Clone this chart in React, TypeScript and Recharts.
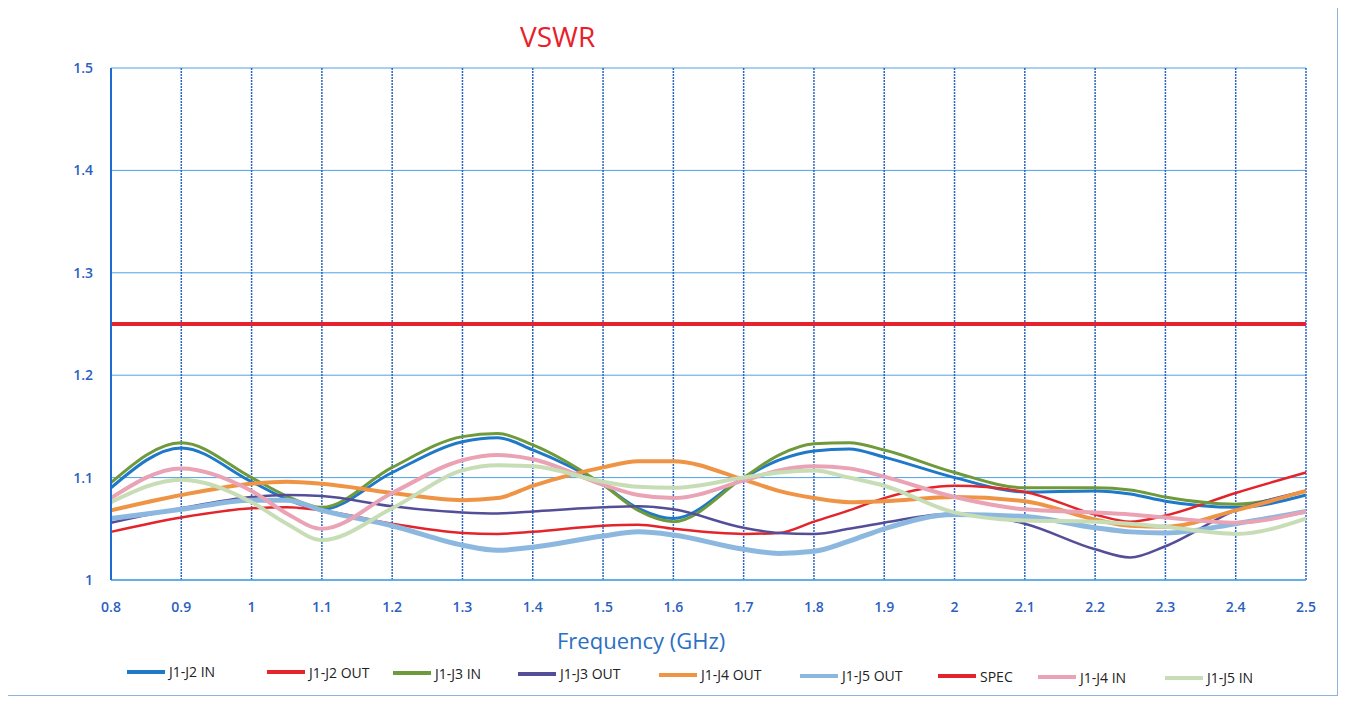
import React from 'react';
import { LineChart, Line, XAxis, YAxis, CartesianGrid } from 'recharts';

const FREQ = [0.8, 0.9, 1.0, 1.05, 1.1, 1.2, 1.3, 1.35, 1.4, 1.5, 1.55, 1.6, 1.7, 1.75, 1.8, 1.85, 1.9, 2.0, 2.1, 2.2, 2.25, 2.3, 2.4, 2.5];

const J12_IN = [1.09, 1.129, 1.096, 1.079, 1.069, 1.105, 1.135, 1.139, 1.127, 1.093, 1.07, 1.06, 1.1, 1.117, 1.126, 1.128, 1.12, 1.1, 1.086, 1.087, 1.084, 1.077, 1.071, 1.083];
const J12_OUT = [1.047, 1.061, 1.07, 1.071, 1.068, 1.055, 1.046, 1.045, 1.047, 1.053, 1.054, 1.05, 1.045, 1.046, 1.057, 1.068, 1.08, 1.092, 1.086, 1.064, 1.057, 1.063, 1.085, 1.105];
const J13_IN = [1.095, 1.134, 1.1, 1.082, 1.071, 1.11, 1.14, 1.143, 1.132, 1.093, 1.068, 1.057, 1.1, 1.122, 1.133, 1.134, 1.127, 1.105, 1.09, 1.09, 1.088, 1.081, 1.074, 1.087];
const J13_OUT = [1.056, 1.07, 1.081, 1.083, 1.082, 1.072, 1.066, 1.065, 1.067, 1.071, 1.072, 1.069, 1.051, 1.046, 1.045, 1.05, 1.056, 1.065, 1.055, 1.03, 1.022, 1.033, 1.068, 1.087];
const J14_OUT = [1.068, 1.083, 1.094, 1.096, 1.094, 1.085, 1.078, 1.08, 1.092, 1.11, 1.116, 1.116, 1.098, 1.087, 1.08, 1.076, 1.077, 1.081, 1.077, 1.059, 1.053, 1.052, 1.068, 1.087];
const J15_OUT = [1.06, 1.069, 1.078, 1.078, 1.068, 1.053, 1.034, 1.029, 1.032, 1.043, 1.047, 1.044, 1.03, 1.026, 1.028, 1.038, 1.05, 1.064, 1.062, 1.051, 1.047, 1.046, 1.055, 1.067];
const SPEC = [1.25, 1.25, 1.25, 1.25, 1.25, 1.25, 1.25, 1.25, 1.25, 1.25, 1.25, 1.25, 1.25, 1.25, 1.25, 1.25, 1.25, 1.25, 1.25, 1.25, 1.25, 1.25, 1.25, 1.25];
const J14_IN = [1.08, 1.109, 1.087, 1.065, 1.05, 1.085, 1.117, 1.122, 1.118, 1.093, 1.083, 1.08, 1.097, 1.107, 1.111, 1.109, 1.101, 1.081, 1.069, 1.066, 1.064, 1.061, 1.056, 1.067];
const J15_IN = [1.076, 1.098, 1.076, 1.055, 1.039, 1.07, 1.107, 1.112, 1.111, 1.096, 1.091, 1.09, 1.1, 1.105, 1.107, 1.1, 1.092, 1.066, 1.058, 1.057, 1.055, 1.052, 1.045, 1.06];

const X_TICKS = [0.8, 0.9, 1.0, 1.1, 1.2, 1.3, 1.4, 1.5, 1.6, 1.7, 1.8, 1.9, 2.0, 2.1, 2.2, 2.3, 2.4, 2.5];
const Y_TICKS = [1.0, 1.1, 1.2, 1.3, 1.4, 1.5];

const SERIES = [
  { key: 'j12in', name: 'J1-J2 IN', values: J12_IN, color: '#1F78C8', width: 3 },
  { key: 'j12out', name: 'J1-J2 OUT', values: J12_OUT, color: '#E3242B', width: 2.5 },
  { key: 'j13in', name: 'J1-J3 IN', values: J13_IN, color: '#6E9A3C', width: 3 },
  { key: 'j13out', name: 'J1-J3 OUT', values: J13_OUT, color: '#544E99', width: 2.5 },
  { key: 'j14out', name: 'J1-J4 OUT', values: J14_OUT, color: '#EE9444', width: 4 },
  { key: 'j15out', name: 'J1-J5 OUT', values: J15_OUT, color: '#8CB8E0', width: 5 },
  { key: 'spec', name: 'SPEC', values: SPEC, color: '#E5232E', width: 4 },
  { key: 'j14in', name: 'J1-J4 IN', values: J14_IN, color: '#EAA3B4', width: 4 },
  { key: 'j15in', name: 'J1-J5 IN', values: J15_IN, color: '#C7DDB6', width: 4 },
];

const LEGEND_X = [127, 267, 393, 518, 659, 800, 938, 1038, 1165];

const data = FREQ.map((f, i) => {
  const row: any = { f };
  SERIES.forEach((s) => { row[s.key] = s.values[i]; });
  return row;
});

const fmt = (v: number) => String(Number(v.toFixed(1)));

const tickStyle = { fill: '#2C5FBF', fontSize: 14, fontWeight: 600, fontFamily: 'Open Sans, sans-serif' };

export default function App() {
  return (
    <div style={{ position: 'relative', width: 1335, height: 692, fontFamily: 'Open Sans, sans-serif' }}>
      <div style={{ position: 'absolute', left: -4, top: -4, width: 1334, height: 692, border: '1px solid #8FB3E0', boxSizing: 'border-box' }} />
      <div style={{ position: 'absolute', left: 512, top: 12, color: '#E8202A', fontSize: 28, lineHeight: '32px' }}>VSWR</div>
      <LineChart width={1335} height={692} data={data} margin={{ top: 60, right: 37, bottom: 80, left: 0 }}>
        <CartesianGrid horizontal={true} vertical={false} stroke="#4FA3E3" strokeWidth={1} />
        <CartesianGrid horizontal={false} vertical={true} stroke="#2A66C4" strokeWidth={1.5} strokeDasharray="2 1" />
        <XAxis
          dataKey="f"
          type="number"
          domain={[0.8, 2.5]}
          ticks={X_TICKS}
          tickFormatter={fmt}
          tickLine={false}
          tickMargin={16}
          axisLine={{ stroke: '#4FA3E3', strokeWidth: 1.5 }}
          tick={tickStyle}
          height={40}
          interval={0}
        />
        <YAxis
          type="number"
          domain={[1, 1.5]}
          ticks={Y_TICKS}
          tickFormatter={fmt}
          tickLine={false}
          tickMargin={12}
          axisLine={{ stroke: '#1E6CD0', strokeWidth: 2 }}
          tick={tickStyle}
          width={103}
          interval={0}
        />
        {SERIES.map((s) => (
          <Line
            key={s.key}
            dataKey={s.key}
            name={s.name}
            type="monotone"
            stroke={s.color}
            strokeWidth={s.width}
            dot={false}
            activeDot={false}
            isAnimationActive={false}
          />
        ))}
      </LineChart>
      <div style={{ position: 'absolute', left: 549, top: 618, color: '#2C6FC4', fontSize: 22, lineHeight: '28px', whiteSpace: 'nowrap' }}>
        Frequency (GHz)
      </div>
      {SERIES.map((s, i) => (
        <div key={s.key} style={{ position: 'absolute', left: LEGEND_X[i] - 8, top: 654 + i * 0.8, display: 'flex', alignItems: 'center', whiteSpace: 'nowrap' }}>
          <div style={{ width: 38, height: 4, background: s.color, marginRight: 4 }} />
          <span style={{ fontSize: 14, color: '#222' }}>{s.name}</span>
        </div>
      ))}
    </div>
  );
}
